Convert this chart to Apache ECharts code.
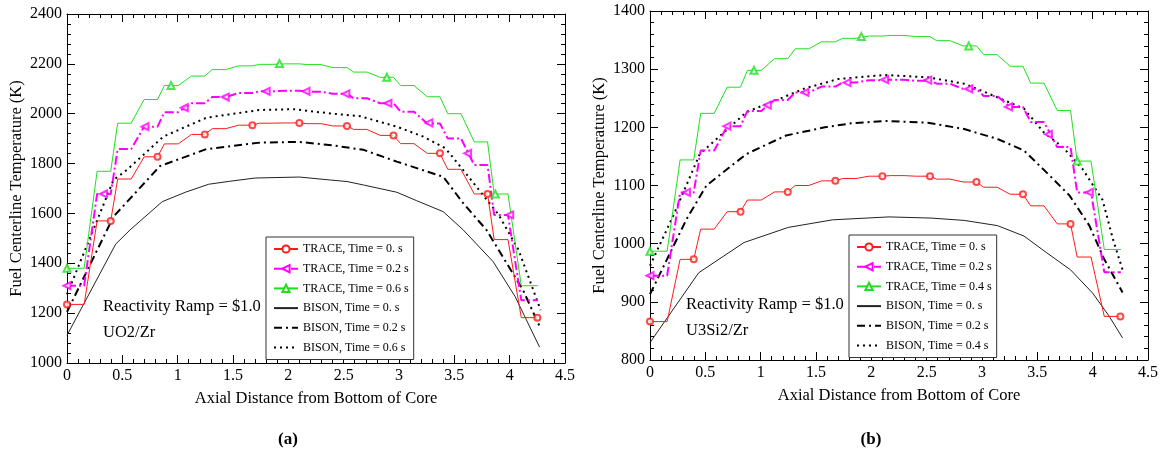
<!DOCTYPE html>
<html><head><meta charset="utf-8">
<script src="https://cdn.jsdelivr.net/npm/echarts@6/dist/echarts.min.js"></script>
<style>html,body{margin:0;padding:0;background:#fff}#c{width:1164px;height:452px}</style>
</head><body><div id="c"></div>
<script>
// ---------- DATA ----------
// TRACE axial cells (start / end of each cell, m) - shared by both panels
const traceCellStart = [0, 0.272, 0.458, 0.697, 0.88, 1.125, 1.312, 1.55, 1.74, 1.98, 2.17, 2.40, 2.59, 2.83, 3.015, 3.255, 3.44, 3.68, 3.86, 4.105];
const traceCellEnd   = [0.155, 0.395, 0.58, 0.818, 1.005, 1.245, 1.435, 1.675, 1.86, 2.10, 2.295, 2.53, 2.71, 2.95, 3.135, 3.37, 3.56, 3.80, 3.985, 4.255];

// Panel (a) UO2/Zr - TRACE cell temperatures (K)
const aTrace00 = [1235, 1570, 1738, 1827, 1879, 1917, 1940, 1954, 1962, 1963, 1960, 1951, 1937, 1913, 1880, 1841, 1777, 1678, 1495, 1182];
const aTrace02 = [1310, 1678, 1858, 1948, 2006, 2042, 2067, 2083, 2090, 2092, 2088, 2080, 2062, 2042, 2008, 1961, 1901, 1794, 1594, 1252];
const aTrace06 = [1380, 1769, 1962, 2057, 2113, 2151, 2177, 2192, 2198, 2200, 2197, 2185, 2167, 2146, 2113, 2068, 2000, 1887, 1678, 1310];
// Panel (a) TRACE marker positions
const aMark00X = [0, 0.395, 0.818, 1.245, 1.675, 2.10, 2.53, 2.95, 3.37, 3.80, 4.25];
const aMark00Y = [1235, 1570, 1827, 1917, 1954, 1963, 1951, 1913, 1841, 1678, 1182];
const aMark02X = [0, 0.33, 0.705, 1.06, 1.43, 1.80, 2.16, 2.52, 2.90, 3.27, 3.62, 4.0];
const aMark02Y = [1310, 1678, 1948, 2024, 2067, 2090, 2090, 2080, 2042, 1963, 1841, 1594];
const aMark06X = [0, 0.94, 1.92, 2.89, 3.87];
const aMark06Y = [1380, 2113, 2201, 2146, 1678];
// Panel (a) BISON profiles
const aBison00X = [0, 0.44, 0.57, 0.86, 1.07, 1.28, 1.47, 1.70, 2.10, 2.38, 2.53, 2.68, 2.98, 3.16, 3.40, 3.58, 3.85, 4.05, 4.27];
const aBison00Y = [1111, 1477, 1534, 1647, 1685, 1717, 1729, 1742, 1746, 1734, 1728, 1714, 1685, 1651, 1607, 1534, 1407, 1266, 1064];
const aBison02X = [0, 0.42, 0.84, 1.26, 1.74, 2.10, 2.40, 2.68, 2.98, 3.40, 3.58, 3.79, 4.12, 4.28];
const aBison02Y = [1205, 1587, 1790, 1858, 1884, 1887, 1873, 1855, 1808, 1747, 1641, 1534, 1293, 1138];
const aBison06X = [0, 0.42, 0.54, 0.87, 1.26, 1.74, 2.05, 2.38, 2.65, 2.98, 3.22, 3.42, 3.58, 3.70, 3.90, 4.08, 4.28];
const aBison06Y = [1275, 1734, 1774, 1908, 1984, 2015, 2018, 2001, 1990, 1948, 1908, 1861, 1774, 1707, 1595, 1454, 1212];

// Panel (b) U3Si2/Zr - TRACE cell temperatures (K)
const bTrace00 = [866, 973, 1025, 1055, 1075, 1089, 1100, 1108, 1112, 1116, 1117, 1116, 1111, 1106, 1097, 1085, 1065, 1034, 977, 875];
const bTrace02 = [945, 1088, 1160, 1202, 1228, 1247, 1260, 1270, 1277, 1281, 1282, 1280, 1275, 1266, 1254, 1235, 1209, 1166, 1088, 951];
const bTrace04 = [987, 1144, 1224, 1269, 1298, 1318, 1335, 1347, 1353, 1357, 1358, 1356, 1349, 1340, 1325, 1305, 1276, 1229, 1142, 990];
const bMark00X = [0, 0.395, 0.818, 1.245, 1.675, 2.10, 2.53, 2.95, 3.37, 3.80, 4.25];
const bMark00Y = [866, 973, 1055, 1089, 1108, 1116, 1116, 1106, 1085, 1034, 875];
const bMark02X = [0, 0.33, 0.695, 1.06, 1.40, 1.78, 2.12, 2.51, 2.88, 3.24, 3.60, 3.97];
const bMark02Y = [945, 1088, 1202, 1238, 1260, 1277, 1282, 1281, 1266, 1235, 1188, 1088];
const bMark04X = [0, 0.94, 1.91, 2.88, 3.86];
const bMark04Y = [987, 1298, 1356, 1340, 1142];
const bBison00X = [0, 0.44, 0.85, 1.25, 1.65, 2.16, 2.54, 2.84, 3.14, 3.38, 3.58, 3.80, 4.00, 4.15, 4.27];
const bBison00Y = [830, 950, 1002, 1028, 1041, 1046, 1044, 1040, 1031, 1013, 985, 955, 915, 875, 838];
const bBison02X = [0, 0.33, 0.51, 0.87, 1.23, 1.58, 1.82, 2.12, 2.51, 2.84, 3.14, 3.38, 3.58, 3.79, 3.97, 4.10, 4.27];
const bBison02Y = [913, 1042, 1100, 1154, 1186, 1200, 1207, 1211, 1208, 1197, 1180, 1160, 1123, 1083, 1031, 975, 916];
const bBison04X = [0, 0.21, 0.45, 0.87, 1.17, 1.40, 1.70, 2.12, 2.51, 2.84, 3.11, 3.38, 3.56, 3.73, 3.91, 4.09, 4.18, 4.27];
const bBison04Y = [962, 1048, 1154, 1226, 1249, 1267, 1283, 1290, 1286, 1275, 1254, 1232, 1191, 1166, 1128, 1075, 1010, 955];

// Text
const xTitle = 'Axial Distance from Bottom of Core';
const yTitle = 'Fuel Centerline Temperature (K)';
const namesA = ['TRACE, Time = 0. s', 'TRACE, Time = 0.2 s', 'TRACE, Time = 0.6 s', 'BISON, Time = 0. s', 'BISON, Time = 0.2 s', 'BISON, Time = 0.6 s'];
const namesB = ['TRACE, Time = 0. s', 'TRACE, Time = 0.2 s', 'TRACE, Time = 0.4 s', 'BISON, Time = 0. s', 'BISON, Time = 0.2 s', 'BISON, Time = 0.4 s'];

// ---------- BUILD ----------
const FONT = '"Liberation Serif", "DejaVu Serif", serif';
const RED = '#ff1a1a', MAG = '#ff00ff', GRN = '#1fe01f';

function cells(vals) {
  const d = [];
  vals.forEach((v, i) => { d.push([traceCellStart[i], v]); d.push([traceCellEnd[i], v]); });
  return d;
}
function pairs(xs, ys) { return xs.map((x, i) => [x, ys[i]]); }

const tick = {color: '#000', width: 1};
function xAxes(g) {
  const base = {type: 'value', gridIndex: g, min: 0, max: 4.5, interval: 0.5,
    axisLine: {onZero: false, lineStyle: {color: '#000', width: 1}},
    axisTick: {inside: true, length: 8, lineStyle: tick},
    minorTick: {show: true, splitNumber: 5, length: 4, lineStyle: tick},
    splitLine: {show: false}};
  return [
    Object.assign({}, base, {position: 'bottom',
      axisLabel: {fontFamily: FONT, fontSize: 16, color: '#000', margin: 5, formatter: v => String(v)},
      name: xTitle, nameLocation: 'middle', nameGap: 27,
      nameTextStyle: {fontFamily: FONT, fontSize: 16.5, color: '#000'}}),
    Object.assign({}, base, {position: 'top', axisLabel: {show: false}})
  ];
}
function yAxes(g, min, max, interval) {
  const base = {type: 'value', gridIndex: g, min, max, interval,
    axisLine: {onZero: false, lineStyle: {color: '#000', width: 1}},
    axisTick: {inside: true, length: 8, lineStyle: tick},
    minorTick: {show: true, splitNumber: 5, length: 4, lineStyle: tick},
    splitLine: {show: false}};
  return [
    Object.assign({}, base, {position: 'left',
      axisLabel: {fontFamily: FONT, fontSize: 16, color: '#000', margin: 5, formatter: v => String(v)},
      name: yTitle, nameLocation: 'middle', nameGap: 42, nameRotate: 90,
      nameTextStyle: {fontFamily: FONT, fontSize: 16.5, color: '#000'}}),
    Object.assign({}, base, {position: 'right', axisLabel: {show: false}})
  ];
}

function panelSeries(ax, names, t00, t02, t0x, m00, m02, m0x, b00, b02, b0x) {
  const common = {xAxisIndex: ax, yAxisIndex: ax, animation: false, silent: true};
  const s = [];
  s.push(Object.assign({type: 'line', name: names[0], data: cells(t00), symbol: 'emptyCircle', symbolSize: 6, showSymbol: false,
    lineStyle: {color: RED, width: 1}, itemStyle: {color: RED}, z: 3}, common));
  s.push(Object.assign({type: 'line', name: names[1], data: cells(t02), symbol: 'emptyTriangle', symbolRotate: 90, symbolSize: 7, showSymbol: false,
    lineStyle: {color: MAG, width: 2, type: [9, 3, 2, 3]}, itemStyle: {color: MAG}, z: 3}, common));
  s.push(Object.assign({type: 'line', name: names[2], data: cells(t0x), symbol: 'emptyTriangle', symbolSize: 7, showSymbol: false,
    lineStyle: {color: GRN, width: 1}, itemStyle: {color: GRN}, z: 3}, common));
  s.push(Object.assign({type: 'line', name: names[3], data: pairs(b00[0], b00[1]), symbol: 'none',
    lineStyle: {color: '#222', width: 1}, itemStyle: {color: '#222'}, z: 2}, common));
  s.push(Object.assign({type: 'line', name: names[4], data: pairs(b02[0], b02[1]), symbol: 'none',
    lineStyle: {color: '#000', width: 2, type: [8, 4, 2, 4]}, itemStyle: {color: '#000'}, z: 2}, common));
  s.push(Object.assign({type: 'line', name: names[5], data: pairs(b0x[0], b0x[1]), symbol: 'none',
    lineStyle: {color: '#000', width: 2, type: [2, 4]}, itemStyle: {color: '#000'}, z: 2}, common));
  // markers
  s.push(Object.assign({type: 'scatter', name: names[0], data: pairs(m00[0], m00[1]), symbol: 'emptyCircle', symbolSize: 6,
    itemStyle: {color: RED, borderWidth: 1}, z: 5}, common));
  s.push(Object.assign({type: 'scatter', name: names[1], data: pairs(m02[0], m02[1]), symbol: 'emptyTriangle', symbolRotate: 90, symbolSize: 7,
    itemStyle: {color: MAG, borderWidth: 1}, z: 5}, common));
  s.push(Object.assign({type: 'scatter', name: names[2], data: pairs(m0x[0], m0x[1]), symbol: 'emptyTriangle', symbolSize: 7,
    itemStyle: {color: GRN, borderWidth: 1}, z: 5}, common));
  return s;
}

function legendFor(left, top, names) {
  return {left, top, orient: 'vertical', padding: [6, 5, 6, 7], itemGap: 7.7, itemWidth: 24, itemHeight: 9,
    borderColor: '#333', borderWidth: 1, backgroundColor: '#fff', selectedMode: false,
    textStyle: {fontFamily: FONT, fontSize: 12, color: '#000'},
    data: names.map((n, i) => i < 3 ? {name: n} : {name: n, itemStyle: {opacity: 0}})};
}

const series = [].concat(
  panelSeries(0, namesA, aTrace00, aTrace02, aTrace06,
    [aMark00X, aMark00Y], [aMark02X, aMark02Y], [aMark06X, aMark06Y],
    [aBison00X, aBison00Y], [aBison02X, aBison02Y], [aBison06X, aBison06Y]),
  panelSeries(2, namesB, bTrace00, bTrace02, bTrace04,
    [bMark00X, bMark00Y], [bMark02X, bMark02Y], [bMark04X, bMark04Y],
    [bBison00X, bBison00Y], [bBison02X, bBison02Y], [bBison04X, bBison04Y])
);

function txt(x, y, text, size, bold, align) {
  return {type: 'text', x, y, silent: true, z: 10,
    style: {text, fontFamily: FONT, fontSize: size, fontWeight: bold ? 'bold' : 'normal', fill: '#000',
      align: align || 'left', verticalAlign: 'middle'}};
}

const option = {
  backgroundColor: '#fff',
  animation: false,
  grid: [
    {left: 67, top: 14, width: 498, height: 349, containLabel: false, outerBoundsMode: 'none'},
    {left: 650, top: 11, width: 498, height: 349, containLabel: false, outerBoundsMode: 'none'}
  ],
  xAxis: xAxes(0).concat(xAxes(1)),
  yAxis: yAxes(0, 1000, 2400, 200).concat(yAxes(1, 800, 1400, 100)),
  legend: [legendFor(266, 237, namesA), legendFor(849, 235, namesB)],
  series,
  graphic: [
    txt(103, 307, 'Reactivity Ramp = $1.0', 16.5),
    txt(103, 333, 'UO2/Zr', 16.5),
    txt(686, 305, 'Reactivity Ramp = $1.0', 16.5),
    txt(686, 331, 'U3Si2/Zr', 16.5),
    txt(288, 440, '(a)', 17, true, 'center'),
    txt(871, 440, '(b)', 17, true, 'center')
  ]
};
const chart = echarts.init(document.getElementById('c'), null, {renderer: 'canvas'});
chart.setOption(option);
</script></body></html>
